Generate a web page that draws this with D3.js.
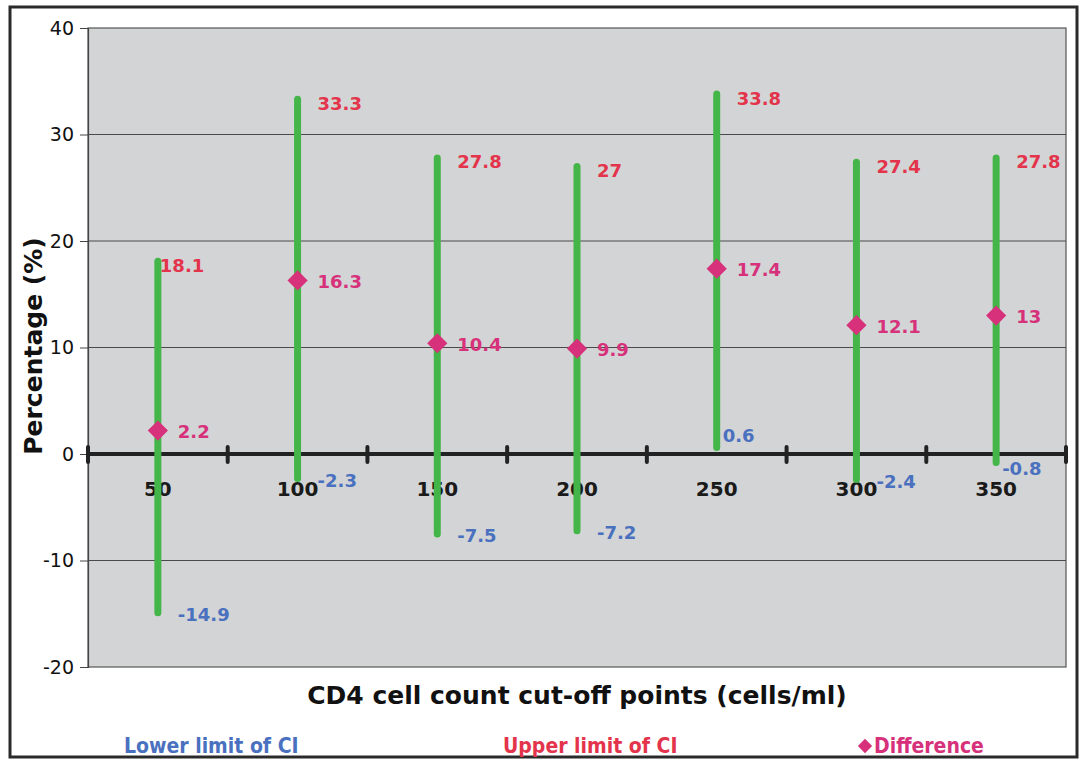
<!DOCTYPE html>
<html><head><meta charset="utf-8">
<script src="https://cdn.jsdelivr.net/npm/d3@7"></script>
<style>body{margin:0;background:#fff;} svg{display:block;}</style>
</head><body>
<svg id="c" width="1086" height="762"></svg>
<script>
const categories = ["50","100","150","200","250","300","350"];
const lowerCI = [-14.9, -2.3, -7.5, -7.2, 0.6, -2.4, -0.8];
const upperCI = [18.1, 33.3, 27.8, 27, 33.8, 27.4, 27.8];
const difference = [2.2, 16.3, 10.4, 9.9, 17.4, 12.1, 13];
const yTicks = [-20, -10, 0, 10, 20, 30, 40];
const legendLabels = ["Lower limit of CI", "Upper limit of CI", "Difference"];

const svg = d3.select("#c");
const m = {left: 88, right: 1066, top: 28, bottom: 667};
const font = "'DejaVu Sans', Verdana, sans-serif";
const cBlue = "#4a70c0", cRed = "#e3344c", cMag = "#d6317a", cGreen = "#44b649";

// outer frame
svg.append("rect").attr("x", 10).attr("y", 7).attr("width", 1067).attr("height", 750)
  .attr("fill", "#fff").attr("stroke", "#2a2a2a").attr("stroke-width", 3);

const x = d3.scaleBand().domain(categories).range([m.left, m.right]).padding(0);
const y = d3.scaleLinear().domain([-20, 40]).range([m.bottom, m.top]);

// plot area
svg.append("rect").attr("x", m.left).attr("y", m.top)
  .attr("width", m.right - m.left).attr("height", m.bottom - m.top)
  .attr("fill", "#d3d4d5").attr("stroke", "#555").attr("stroke-width", 1.2);

// gridlines
svg.append("g").selectAll("line").data(yTicks.filter(d => d !== 0 && d !== -20 && d !== 40)).join("line")
  .attr("x1", m.left).attr("x2", m.right)
  .attr("y1", d => y(d)).attr("y2", d => y(d))
  .attr("stroke", "#4a4a4a").attr("stroke-width", 1);

// y axis
const yAxis = d3.axisLeft(y).tickValues(yTicks).tickSize(8).tickPadding(6).tickFormat(d => String(d));
const gy = svg.append("g").attr("transform", `translate(${m.left},0)`).call(yAxis);
gy.select(".domain").attr("stroke", "#444").attr("stroke-width", 1.2);
gy.selectAll(".tick line").attr("stroke", "#444");
gy.selectAll("text").attr("font-family", font).attr("font-size", 19).attr("fill", "#111");

// zero axis line with tick marks at band boundaries
const zeroY = y(0);
svg.append("line").attr("x1", m.left).attr("x2", m.right)
  .attr("y1", zeroY).attr("y2", zeroY)
  .attr("stroke", "#222").attr("stroke-width", 4);
const bounds = categories.map(c => x(c)).concat([x(categories[categories.length-1]) + x.bandwidth()]);
svg.append("g").selectAll("line").data(bounds).join("line")
  .attr("x1", d => d).attr("x2", d => d)
  .attr("y1", zeroY - 7).attr("y2", zeroY + 8)
  .attr("stroke", "#222").attr("stroke-width", 4).attr("stroke-linecap", "round");

// category labels
svg.append("g").selectAll("text").data(categories).join("text")
  .attr("x", d => x(d) + x.bandwidth()/2).attr("y", zeroY + 42)
  .attr("text-anchor", "middle").attr("font-family", font).attr("font-weight", "bold")
  .attr("font-size", 20).attr("fill", "#1a1a1a").text(d => d);

const cx = i => x(categories[i]) + x.bandwidth()/2;

// high-low lines
svg.append("g").selectAll("line").data(categories).join("line")
  .attr("x1", (d,i) => cx(i)).attr("x2", (d,i) => cx(i))
  .attr("y1", (d,i) => y(lowerCI[i])).attr("y2", (d,i) => y(upperCI[i]))
  .attr("stroke", cGreen).attr("stroke-width", 7).attr("stroke-linecap", "round");

// diamonds
const diamond = d3.symbol().type(d3.symbolDiamond2).size(260);
svg.append("g").selectAll("path").data(difference).join("path")
  .attr("d", diamond)
  .attr("transform", (d,i) => `translate(${cx(i)},${y(d)})`)
  .attr("fill", cMag);

const lblFont = (sel, color) => sel.attr("font-family", font).attr("font-weight", "bold")
  .attr("font-size", 18).attr("fill", color).attr("dominant-baseline", "central");

// upper labels
lblFont(svg.append("g").selectAll("text").data(upperCI).join("text")
  .attr("x", (d,i) => cx(i) + (i === 0 ? 2 : 20)).attr("y", (d,i) => y(d) + 4)
  .text(d => d), cRed);

// lower labels
lblFont(svg.append("g").selectAll("text").data(lowerCI).join("text")
  .attr("x", (d,i) => cx(i) + (Math.abs(d) < 1 ? 6 : 20))
  .attr("y", (d,i) => y(d) + (d > 0 ? -12 : (Math.abs(d) < 1 ? 6 : 2)))
  .text(d => d), cBlue);

// difference labels
lblFont(svg.append("g").selectAll("text").data(difference).join("text")
  .attr("x", (d,i) => cx(i) + 20).attr("y", (d,i) => y(d) + 1)
  .text(d => d), cMag);

// axis titles
svg.append("text").attr("transform", `translate(42,346) rotate(-90)`)
  .attr("text-anchor", "middle").attr("font-family", font).attr("font-weight", "bold")
  .attr("font-size", 25).attr("fill", "#111").text("Percentage (%)");
svg.append("text").attr("x", 577).attr("y", 704)
  .attr("text-anchor", "middle").attr("font-family", font).attr("font-weight", "bold")
  .attr("font-size", 25).attr("fill", "#111").text("CD4 cell count cut-off points (cells/ml)");

// legend
const lf = "'DejaVu Sans Condensed', 'DejaVu Sans', sans-serif";
svg.append("text").attr("x", 124).attr("y", 753).attr("font-family", lf).attr("font-weight", "bold")
  .attr("font-size", 21).attr("fill", cBlue).text(legendLabels[0]);
svg.append("text").attr("x", 503).attr("y", 753).attr("font-family", lf).attr("font-weight", "bold")
  .attr("font-size", 21).attr("fill", cRed).text(legendLabels[1]);
svg.append("path").attr("d", d3.symbol().type(d3.symbolDiamond2).size(130))
  .attr("transform", "translate(865,746)").attr("fill", cMag);
svg.append("text").attr("x", 874).attr("y", 753).attr("font-family", lf).attr("font-weight", "bold")
  .attr("font-size", 21).attr("fill", cMag).text(legendLabels[2]);
</script>
</body></html>
